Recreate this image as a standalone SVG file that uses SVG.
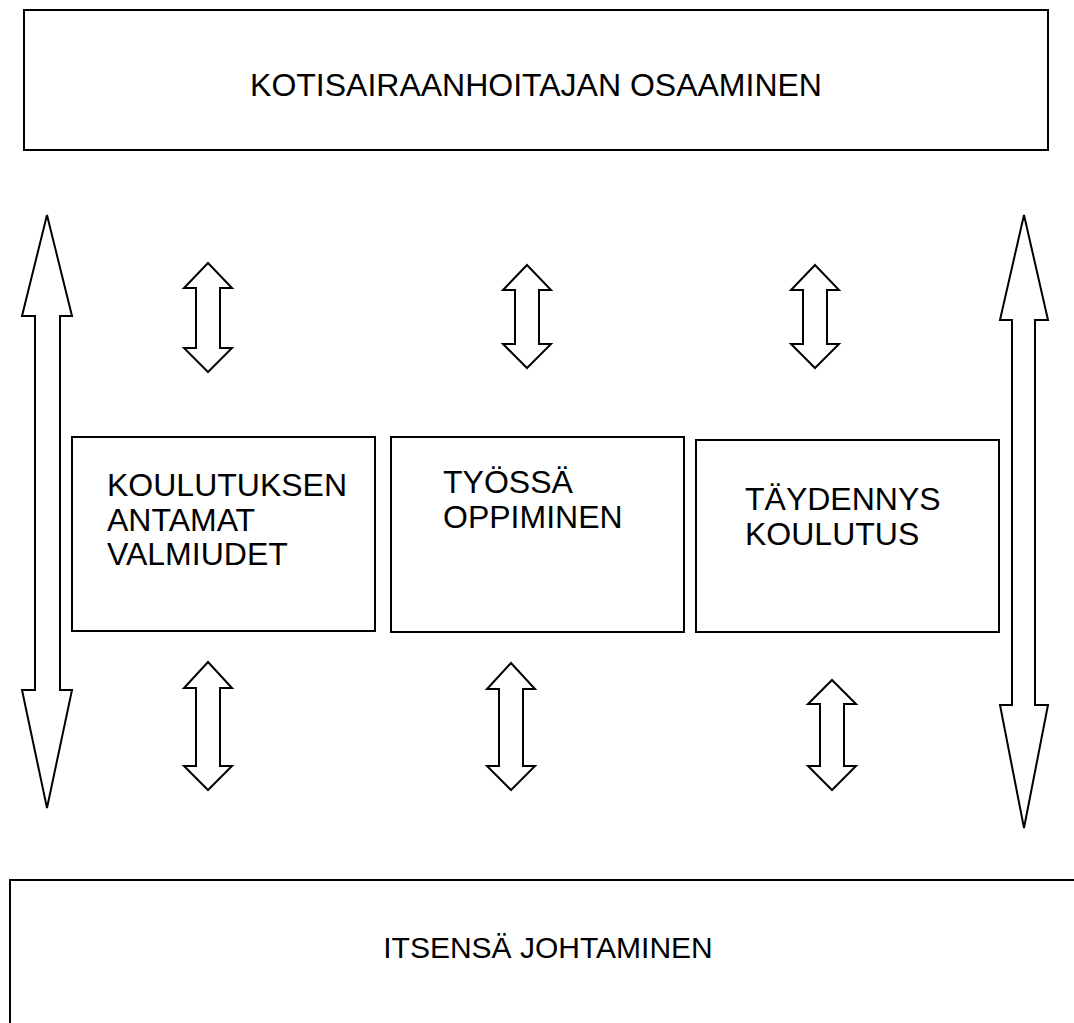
<svg xmlns="http://www.w3.org/2000/svg" width="1074" height="1023" viewBox="0 0 1074 1023">
<style>
.b{fill:#fff;stroke:#000;stroke-width:2}
.a{fill:#fff;stroke:#000;stroke-width:2;stroke-linejoin:miter}
.t{font-family:"Liberation Sans",Arial,sans-serif;font-size:32px;fill:#000}
</style>
<rect width="1074" height="1023" fill="#fff"/>
<g id="top">
<rect class="b" x="24" y="10" width="1024" height="140"/>
<text class="t" x="536" y="96" text-anchor="middle">KOTISAIRAANHOITAJAN OSAAMINEN</text>
</g>
<g id="bottom">
<path class="b" d="M10 1023 V880 H1074"/>
<text class="t" x="548" y="958" text-anchor="middle" style="font-size:30px">ITSENSÄ JOHTAMINEN</text>
</g>
<g id="box1">
<rect class="b" x="72" y="437" width="303" height="194"/>
<text class="t" x="107" y="496">KOULUTUKSEN</text>
<text class="t" x="107" y="531">ANTAMAT</text>
<text class="t" x="107" y="565">VALMIUDET</text>
</g>
<g id="box2">
<rect class="b" x="391" y="437" width="293" height="195"/>
<text class="t" x="443" y="493">TYÖSSÄ</text>
<text class="t" x="443" y="528">OPPIMINEN</text>
</g>
<g id="box3">
<rect class="b" x="696" y="440" width="303" height="192"/>
<text class="t" x="745" y="510">TÄYDENNYS</text>
<text class="t" x="745" y="545">KOULUTUS</text>
</g>
<g id="connectors">
<path class="a" d="M47 215 L72 316 H60 V690 H72 L47 808 L22 690 H35 V316 H22 Z"/>
<path class="a" d="M1024 215 L1048 320 H1035 V705 H1048 L1024 828 L1000 705 H1012 V320 H1000 Z"/>
<path class="a" d="M208 263 L232 288 H220 V348 H232 L208 372 L184 348 H196 V288 H184 Z"/>
<path class="a" d="M527 265 L551 290 H539 V344 H551 L527 368 L503 344 H515 V290 H503 Z"/>
<path class="a" d="M815 265 L839 290 H827 V344 H839 L815 368 L791 344 H803 V290 H791 Z"/>
<path class="a" d="M208 662 L232 688 H220 V766 H232 L208 790 L184 766 H196 V688 H184 Z"/>
<path class="a" d="M511 663 L535 689 H523 V766 H535 L511 790 L487 766 H499 V689 H487 Z"/>
<path class="a" d="M832 680 L856 704 H844 V766 H856 L832 790 L808 766 H820 V704 H808 Z"/>
</g>
</svg>
